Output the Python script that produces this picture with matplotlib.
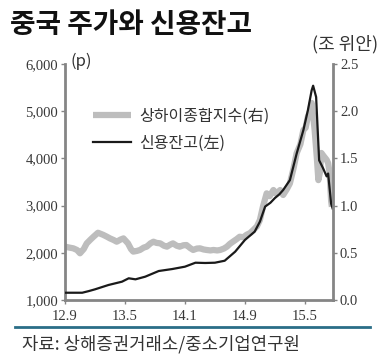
import matplotlib
matplotlib.use("Agg")
import matplotlib.pyplot as plt
from matplotlib.lines import Line2D

plt.rcParams['font.family'] = ['Noto Sans CJK KR', 'DejaVu Sans']

# months counted from 2012.9
index_months = [0, 0.6, 1.1, 1.6, 2.0, 2.5, 2.9, 3.4, 3.8, 4.4, 5.1, 5.6, 6.0, 6.5, 6.9,
                7.4, 7.8, 8.4, 8.8, 9.1, 9.6, 10.0, 10.5, 10.9, 11.4, 11.8, 12.2, 12.7,
                13.2, 13.6, 14.0, 14.4, 14.9, 15.3, 15.8, 16.2, 16.7, 17.1, 17.6, 18.0,
                18.5, 18.9, 19.4, 19.8, 20.3, 20.7, 21.2, 21.6, 22.0, 22.4, 22.9, 23.3,
                23.8, 24.2, 24.7, 25.1, 25.6, 26.0, 26.4, 26.9, 27.3, 27.8, 28.2, 28.7,
                29.1, 29.6, 30.0, 30.5, 30.9, 31.4, 31.8, 32.1, 32.4, 32.7, 32.9, 33.1,
                33.3, 33.6, 33.8, 34.0, 34.2, 34.5, 34.9, 35.1, 35.3, 35.5, 35.6]
index_values = [2130, 2110, 2095, 2060, 1990, 2080, 2200, 2280, 2340, 2425, 2380, 2340,
                2305, 2270, 2235, 2280, 2305, 2200, 2080, 2025, 2040, 2060, 2110, 2130,
                2200, 2235, 2210, 2200, 2150, 2130, 2170, 2200, 2150, 2130, 2160, 2165,
                2100, 2060, 2090, 2095, 2070, 2060, 2050, 2060, 2050, 2060, 2090, 2130,
                2190, 2235, 2290, 2340, 2330, 2380, 2420, 2480, 2560, 2695, 2975, 3260,
                3200, 3330, 3250, 3330, 3225, 3350, 3470, 3800, 4110, 4300, 4600, 4650,
                4885, 5000, 5175, 4900, 4600, 4000, 3540, 3700, 4115, 4050, 3970, 3900,
                3690, 3100, 2975]

margin_months = [0, 1.2, 2.3, 3.2, 4.0, 5.8, 7.6, 8.5, 9.4, 10.7, 12.5, 14.3, 16.0, 17.4,
                 18.7, 20.0, 21.3, 22.7, 24.0, 25.3, 26.0, 26.7, 27.4, 28.0, 28.6, 29.1,
                 30.0, 30.9, 31.8, 32.4, 32.9, 33.1, 33.5, 33.9, 34.4, 34.9, 35.1, 35.5, 35.7]
margin_values = [0.077, 0.077, 0.077, 0.095, 0.113, 0.159, 0.194, 0.23, 0.219, 0.247,
                 0.307, 0.328, 0.353, 0.395, 0.392, 0.395, 0.416, 0.512, 0.636, 0.724,
                 0.83, 0.99, 1.03, 1.08, 1.12, 1.165, 1.27, 1.55, 1.80, 2.01, 2.22, 2.27,
                 2.15, 1.48, 1.40, 1.31, 1.34, 1.02, 0.97]

x_ticks = [0, 8, 16, 24, 32]
x_labels = ['12.9', '13.5', '14.1', '14.9', '15.5']
left_ticks = [1000, 2000, 3000, 4000, 5000, 6000]
right_ticks = [0.0, 0.5, 1.0, 1.5, 2.0, 2.5]

W, H = 381, 362
fig = plt.figure(figsize=(W / 100, H / 100), dpi=100)
ax = fig.add_axes([65 / W, 1 - 300 / H, 268 / W, 236 / H])
ax2 = ax.twinx()

l1, = ax.plot(index_months, index_values, color='#bdbdbd', lw=4.5,
              solid_joinstyle='round', solid_capstyle='butt')
l2, = ax2.plot(margin_months, margin_values, color='#1a1a1a', lw=1.6)

ax.set_xlim(0, 35.75)
ax.set_ylim(1000, 6000)
ax2.set_ylim(0, 2.5)

tick_font = dict(fontfamily='Liberation Serif', fontsize=10.5, color='#383838')
ax.set_xticks(x_ticks, x_labels, **tick_font)
ax.set_yticks(left_ticks, [f'{v:,}' for v in left_ticks], **tick_font)
ax2.set_yticks(right_ticks, [f'{v:.1f}' for v in right_ticks], **tick_font)

spine_c = '#858585'
for side in ['top', 'right']:
    ax.spines[side].set_visible(False)
for side in ['top', 'left', 'bottom']:
    ax2.spines[side].set_visible(False)
for sp in [ax.spines['left'], ax.spines['bottom'], ax2.spines['right']]:
    sp.set_color(spine_c)
    sp.set_linewidth(2)
for a in (ax, ax2):
    a.tick_params(direction='out', length=3, width=1, color=spine_c, pad=2)
ax.tick_params(axis='x', pad=4)

ax.legend([l1, l2], ['상하이종합지수(右)', '신용잔고(左)'], loc='upper left',
          bbox_to_anchor=(0.104, 0.815), frameon=False, prop={'size': 11.5},
          handlelength=2.4, handletextpad=0.5, borderpad=0, borderaxespad=0,
          labelspacing=0.65, labelcolor='#333333')

fig.text(10 / W, 1 - 25 / H, '중국 주가와 신용잔고', fontsize=20, fontweight='bold',
         ha='left', va='center', color='#111111')
fig.text(378 / W, 1 - 44 / H, '(조 위안)', fontsize=13, ha='right', va='center',
         color='#333333')
fig.text(70 / W, 1 - 61 / H, '(p)', fontsize=12, ha='left', va='center', color='#333333')

fig.add_artist(Line2D([15 / W, 370 / W], [1 - 327 / H] * 2, color='#2a6e87', lw=2))
fig.text(22 / W, 1 - 344 / H, '자료: 상해증권거래소/중소기업연구원', fontsize=12.8,
         ha='left', va='center', color='#333333')

fig.savefig('out.png', dpi=100)
